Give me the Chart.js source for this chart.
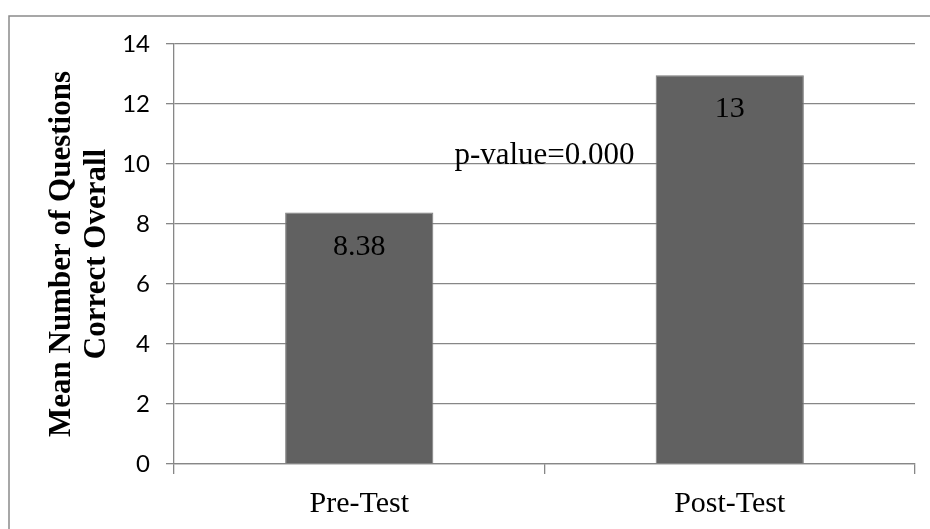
<!DOCTYPE html>
<html>
<head>
<meta charset="utf-8">
<script src="https://cdn.jsdelivr.net/npm/chart.js@4/dist/chart.umd.min.js"></script>
<style>
html,body{margin:0;padding:0;background:#fff;}
#wrap{position:relative;width:930px;height:529px;overflow:hidden;}
canvas{display:block;}
</style>
</head>
<body>
<div id="wrap"><canvas id="c" width="930" height="529"></canvas></div>
<script>
const categories = ["Pre-Test", "Post-Test"];
const meanCorrect = [8.38, 12.96];
const valueLabels = ["8.38", "13"];
const yTicks = [0, 2, 4, 6, 8, 10, 12, 14];
const yTitleLines = ["Mean Number of Questions", "Correct Overall"];
const pValueText = "p-value=0.000";
const pValuePos = { x: 0.5, y: 10 };

const serif = "'Liberation Serif', 'Times New Roman', serif";
const gridColor = "#878787";

const frame = {
  id: 'frame',
  beforeDraw(chart) {
    const ctx = chart.ctx;
    ctx.save();
    ctx.fillStyle = '#fff';
    ctx.fillRect(0, 0, chart.width, chart.height);
    ctx.strokeStyle = '#8a8a8a';
    ctx.lineWidth = 1.5;
    ctx.strokeRect(9, 16, 1000, 1000);
    ctx.restore();
  }
};

const labelsPlugin = {
  id: 'valueText',
  afterDatasetsDraw(chart) {
    const ctx = chart.ctx;
    const meta = chart.getDatasetMeta(0);
    ctx.save();
    ctx.fillStyle = '#000';
    ctx.font = "30px " + serif;
    ctx.textAlign = 'center';
    ctx.textBaseline = 'alphabetic';
    meta.data.forEach((bar, i) => {
      ctx.fillText(valueLabels[i], bar.x, bar.y + 42);
    });
    const xs = chart.scales.x, ys = chart.scales.y;
    ctx.font = "31px " + serif;
    ctx.fillText(pValueText, xs.getPixelForValue(pValuePos.x), ys.getPixelForValue(pValuePos.y));
    ctx.restore();
  }
};

new Chart(document.getElementById('c'), {
  type: 'bar',
  data: {
    labels: categories,
    datasets: [{
      data: meanCorrect,
      backgroundColor: '#616161',
      borderColor: '#7a7a7a',
      borderWidth: 1,
      barPercentage: 0.4,
      categoryPercentage: 1.0
    }]
  },
  options: {
    responsive: false,
    devicePixelRatio: 1,
    animation: false,
    layout: { padding: { left: 20, top: 44, right: 15, bottom: 0 } },
    plugins: { legend: { display: false }, tooltip: { enabled: false } },
    scales: {
      x: {
        offset: true,
        afterFit(s) { s.height = 65; },
        grid: { offset: true, drawOnChartArea: false, drawTicks: true, tickLength: 10, color: gridColor, lineWidth: 1.3 },
        border: { display: true, color: gridColor, width: 1.3 },
        ticks: { color: '#000', font: { family: serif, size: 30 }, padding: 12 }
      },
      y: {
        min: 0, max: 14,
        afterFit(s) { s.width = 154; },
        afterBuildTicks(s) { s.ticks = yTicks.map(v => ({ value: v })); },
        grid: { color: gridColor, lineWidth: 1.3, tickLength: 8 },
        border: { display: true, color: gridColor, width: 1.3 },
        ticks: { color: '#000', font: { family: "Lato, 'Open Sans', sans-serif", size: 24 }, padding: 16 },
        title: {
          display: true,
          text: yTitleLines,
          color: '#000',
          font: { family: serif, size: 31, weight: 'bold', lineHeight: 1.15 },
          padding: { top: 24, bottom: 0 }
        }
      }
    }
  },
  plugins: [frame, labelsPlugin]
});
</script>
</body>
</html>
